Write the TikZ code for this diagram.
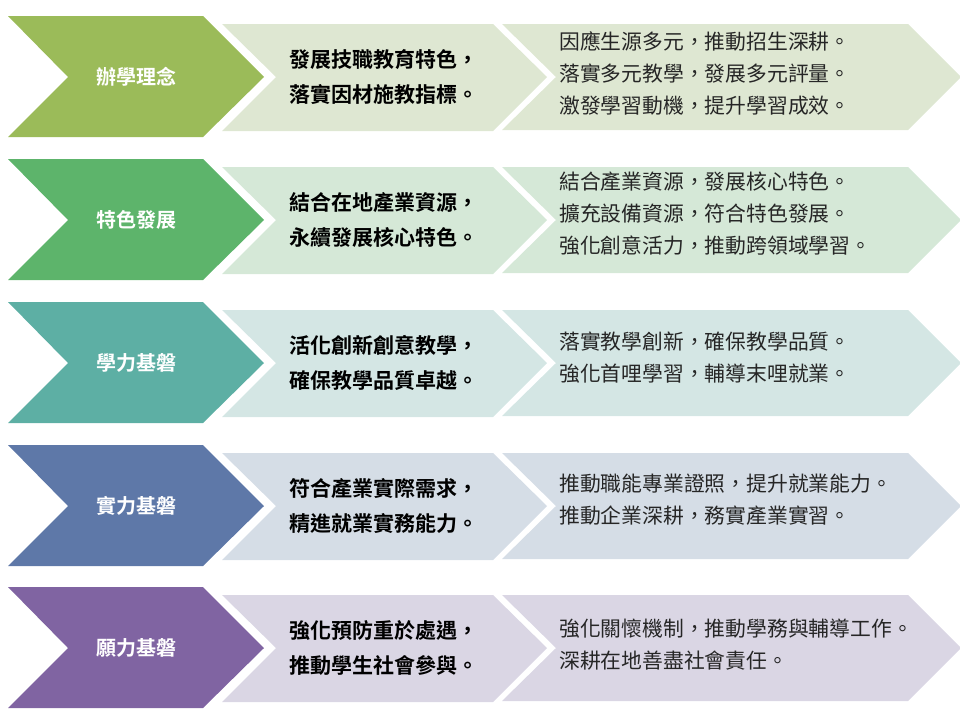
\documentclass[tikz,border=0pt]{standalone}
\usepackage{fontspec}
\setmainfont{Noto Sans CJK TC}[BoldFont={* Bold}]
\usepackage{xcolor}
\usetikzlibrary{positioning,calc}

\definecolor{darkA}{HTML}{9BBB59}
\definecolor{paleA}{HTML}{DEE7D2}
\definecolor{darkB}{HTML}{5DB46B}
\definecolor{paleB}{HTML}{D5E8D7}
\definecolor{darkC}{HTML}{5DAFA4}
\definecolor{paleC}{HTML}{D4E6E4}
\definecolor{darkD}{HTML}{5E78A8}
\definecolor{paleD}{HTML}{D5DDE6}
\definecolor{darkE}{HTML}{8064A2}
\definecolor{paleE}{HTML}{DAD6E4}

\begin{document}
\begin{tikzpicture}[x=1pt,y=-1pt,
    head/.style={text=white,inner sep=0pt,font=\fontsize{20}{24}\selectfont\bfseries},
    goal/.style={anchor=west,align=left,inner sep=0pt,font=\fontsize{21}{35}\selectfont\bfseries},
    plan/.style={anchor=west,align=left,inner sep=0pt,text=black!85,font=\fontsize{20.8}{32}\selectfont}]
    \useasboundingbox (0,0) rectangle (960,720);

    % chevrons, one row each
    \foreach \yc/\dk/\pl in {77/darkA/paleA, 220/darkB/paleB, 363/darkC/paleC, 506/darkD/paleD, 648/darkE/paleE} {
        \fill[\dk] (8,\yc-61) -- (203,\yc-61) -- (264,\yc) -- (203,\yc+60) -- (8,\yc+60) -- (68,\yc) -- cycle;
        \fill[\pl] (222,\yc-53) -- (493,\yc-53) -- (547,\yc) -- (493,\yc+54) -- (222,\yc+54) -- (276,\yc) -- cycle;
        \fill[\pl] (502,\yc-53) -- (908,\yc-53) -- (961,\yc) -- (908,\yc+53) -- (502,\yc+53) -- (556,\yc) -- cycle;
    }

    \node[head] (headA) at (136,77) {辦學理念};
    \node[goal] (goalA) at (289,77) {發展技職教育特色，\\落實因材施教指標。};
    \node[plan] (planA) at (559,73) {因應生源多元，推動招生深耕。\\落實多元教學，發展多元評量。\\激發學習動機，提升學習成效。};

    \node[head] (headB) at (136,220) {特色發展};
    \node[goal] (goalB) at (289,220) {結合在地產業資源，\\永續發展核心特色。};
    \node[plan] (planB) at (559,214) {結合產業資源，發展核心特色。\\擴充設備資源，符合特色發展。\\強化創意活力，推動跨領域學習。};

    \node[head] (headC) at (136,363) {學力基磐};
    \node[goal] (goalC) at (289,363) {活化創新創意教學，\\確保教學品質卓越。};
    \node[plan] (planC) at (559,358) {落實教學創新，確保教學品質。\\強化首哩學習，輔導末哩就業。};

    \node[head] (headD) at (136,506) {實力基磐};
    \node[goal] (goalD) at (289,506) {符合產業實際需求，\\精進就業實務能力。};
    \node[plan] (planD) at (559,500) {推動職能專業證照，提升就業能力。\\推動企業深耕，務實產業實習。};

    \node[head] (headE) at (136,648) {願力基磐};
    \node[goal] (goalE) at (289,648) {強化預防重於處遇，\\推動學生社會參與。};
    \node[plan] (planE) at (559,645) {強化關懷機制，推動學務與輔導工作。\\深耕在地善盡社會責任。};
\end{tikzpicture}
\end{document}
